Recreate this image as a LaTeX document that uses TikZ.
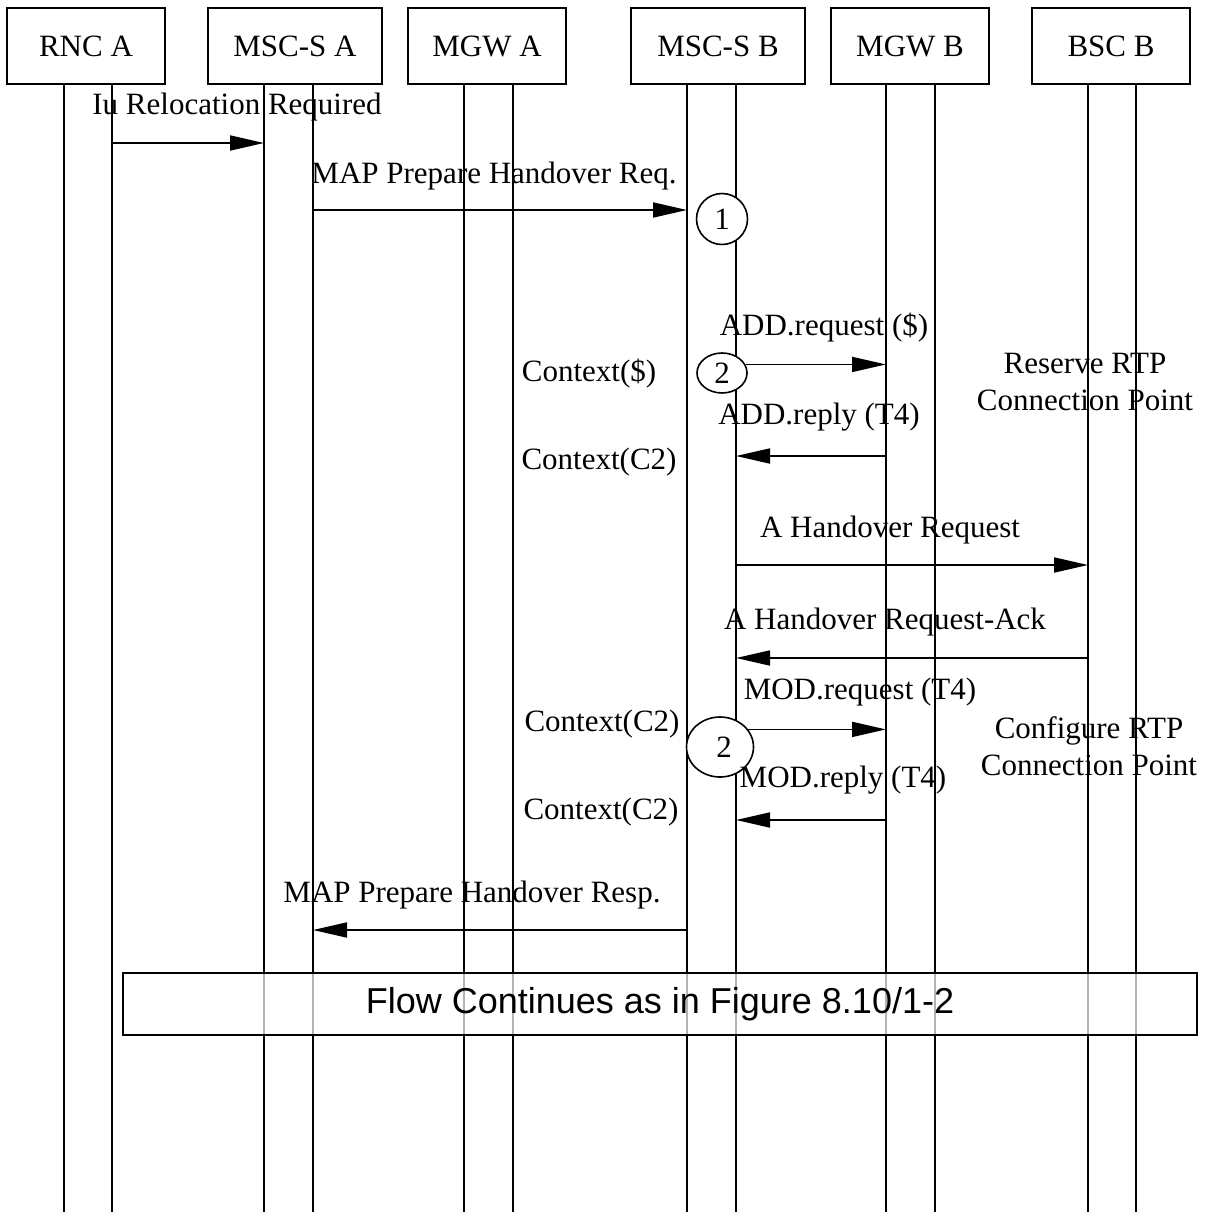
\documentclass[tikz,border=0pt]{standalone}
\usepackage{fontspec}
\setmainfont{Liberation Serif}
\newfontfamily\flowfont{Liberation Sans}
\usetikzlibrary{shapes,arrows.meta,positioning,calc}

\begin{document}
\begin{tikzpicture}[x=1pt, y=-1pt,
    every node/.style={font=\fontsize{31}{37}\selectfont},
    entity/.style={draw, line width=1.8pt, minimum height=76pt, inner sep=0pt},
    lifeline/.style={line width=1.5pt},
    msg/.style={line width=1.8pt, -{Triangle[length=34pt,width=15pt]}},
    stepmark/.style={draw, ellipse, line width=1.6pt, fill=white, inner sep=0pt}]
    \useasboundingbox (0,0) rectangle (1208,1212);

    % lifelines
    \foreach \n/\x in {rncA1/64, rncA2/112, mscA1/264, mscA2/313, mgwA1/464, mgwA2/513,
                       mscB1/687, mscB2/736, mgwB1/886, mgwB2/935, bscB1/1088, bscB2/1136} {
        \coordinate (\n) at (\x,84);
        \draw[lifeline] (\n) -- (\x,1212);
    }

    % entities
    \node[entity, minimum width=158pt] (rncA) at (86,46) {RNC A};
    \node[entity, minimum width=174pt] (mscA) at (295,46) {MSC-S A};
    \node[entity, minimum width=158pt] (mgwA) at (487,46) {MGW A};
    \node[entity, minimum width=174pt] (mscB) at (718,46) {MSC-S B};
    \node[entity, minimum width=158pt] (mgwB) at (910,46) {MGW B};
    \node[entity, minimum width=158pt] (bscB) at (1111,46) {BSC B};

    % relocation
    \node (iuReq) at (237,107) {Iu Relocation Required};
    \draw[msg] (rncA2 |- 0,143) -- (mscA1 |- 0,143);

    \node (mapReq) at (494,176) {MAP Prepare Handover Req.};
    \draw[msg] (mscA2 |- 0,210) -- (mscB1 |- 0,210);
    \node[stepmark, minimum width=51pt, minimum height=51pt] (step1) at (722,219) {1};

    % ADD
    \node[stepmark, minimum width=50pt, minimum height=40pt] (step2) at (722,373) {2};
    \node (addReq) at (824,328) {ADD.request (\$)};
    \draw[msg] (step2.20) -- (step2.20 -| mgwB1);
    \node (ctxNew) at (589,374) {Context(\$)};
    \node[align=center] (reserve) at (1085,382) {Reserve RTP\\Connection Point};
    \node (addRep) at (819,417) {ADD.reply (T4)};
    \draw[msg] (mgwB1 |- 0,456) -- (mscB2 |- 0,456);
    \node (ctxA) at (599,462) {Context(C2)};

    % A interface
    \node (hoReq) at (890,530) {A Handover Request};
    \draw[msg] (mscB2 |- 0,565) -- (bscB1 |- 0,565);
    \node (hoAck) at (885,622) {A Handover Request-Ack};
    \draw[msg] (bscB1 |- 0,658) -- (mscB2 |- 0,658);

    % MOD
    \node[stepmark, minimum width=67pt, minimum height=60pt] (step3) at (720,747) {\hspace{8pt}2};
    \node (modReq) at (860,692) {MOD.request (T4)};
    \draw[msg] (step3.32) -- (step3.32 -| mgwB1);
    \node (ctxB) at (602,724) {Context(C2)};
    \node[align=center] (configure) at (1089,746) {Configure RTP\\Connection Point};
    \node (modRep) at (843,780) {MOD.reply (T4)};
    \draw[msg] (mgwB1 |- 0,820) -- (mscB2 |- 0,820);
    \node (ctxC) at (601,812) {Context(C2)};

    % response
    \node (mapResp) at (472,895) {MAP Prepare Handover Resp.};
    \draw[msg] (mscB1 |- 0,930) -- (mscA2 |- 0,930);

    \node[draw, line width=1.8pt, fill=white, fill opacity=0.7, text opacity=1,
          minimum width=1074pt, minimum height=62pt,
          font=\flowfont\fontsize{36}{43}\selectfont] (flow) at (660,1004)
          {Flow Continues as in Figure 8.10/1-2};
\end{tikzpicture}
\end{document}
